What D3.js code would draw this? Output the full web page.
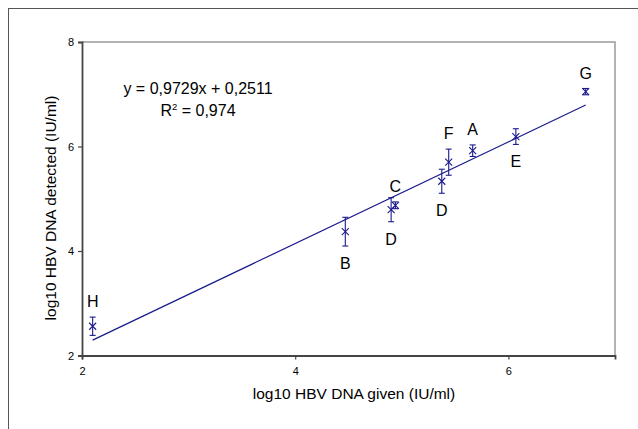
<!DOCTYPE html>
<html>
<head>
<meta charset="utf-8">
<script src="https://cdn.jsdelivr.net/npm/d3@7"></script>
<style>
  body { margin: 0; background: #fff; }
  svg { display: block; font-family: "Liberation Sans", Arial, sans-serif; }
</style>
</head>
<body>
<svg id="chart" width="638" height="429"></svg>
<script>
// ---- data ----
const labels  = ["H", "B", "D", "C", "D", "F", "A", "E", "G"];
const given   = [2.10, 4.47, 4.90, 4.94, 5.375, 5.44, 5.665, 6.07, 6.725];
const detect  = [2.56, 4.37, 4.79, 4.875, 5.335, 5.70, 5.92, 6.19, 7.05];
const errs    = [0.175, 0.275, 0.23, 0.065, 0.23, 0.25, 0.11, 0.15, 0.06];
// label placement: above or below the point
const labelPos = ["above", "below", "below", "above", "below", "above", "above", "below", "above"];
const xTicks = [2, 4, 6];
const yTicks = [2, 4, 6, 8];
const slope = 0.9729, intercept = 0.2511;

const svg = d3.select("#chart");
const plotL = 82, plotR = 615, plotT = 42, plotB = 355.5;

const x = d3.scaleLinear().domain([2, 7]).range([plotL, plotR]);
const y = d3.scaleLinear().domain([2, 8]).range([plotB, plotT]);
const blue = "#1a1a8c";

// outer chart frame (runs off the picture on right/bottom)
svg.append("rect")
  .attr("x", 8.5).attr("y", 8.5)
  .attr("width", 660).attr("height", 460)
  .attr("fill", "none").attr("stroke", "#555").attr("stroke-width", 1);

// plot area border (top + right light grey)
svg.append("path")
  .attr("d", `M${plotL},${plotT}H${plotR}V${plotB}`)
  .attr("fill", "none").attr("stroke", "#9a9a9a").attr("stroke-width", 1.5);

// axes
const xAxis = svg.append("g")
  .attr("transform", `translate(0,${plotB})`)
  .call(d3.axisBottom(x).tickValues(xTicks).tickFormat(d3.format("d")).tickSize(4).tickPadding(8));
const yAxis = svg.append("g")
  .attr("transform", `translate(${plotL},0)`)
  .call(d3.axisLeft(y).tickValues(yTicks).tickFormat(d3.format("d")).tickSize(4).tickPadding(4));
[xAxis, yAxis].forEach(g => {
  g.select(".domain").attr("stroke", "#444").attr("stroke-width", 1.8);
  g.selectAll(".tick line").attr("stroke", "#444").attr("stroke-width", 1.2);
  g.selectAll(".tick text").attr("font-size", 11).attr("fill", "#000")
    .attr("font-family", "Liberation Sans, Arial, sans-serif");
});

// trend line over data range
const xr = d3.extent(given);
svg.append("line")
  .attr("x1", x(xr[0])).attr("y1", y(slope * xr[0] + intercept))
  .attr("x2", x(xr[1])).attr("y2", y(slope * xr[1] + intercept))
  .attr("stroke", blue).attr("stroke-width", 1.2);

// points with error bars
const pts = given.map((g, i) => ({ g, d: detect[i], e: errs[i], lab: labels[i], pos: labelPos[i] }));
const pg = svg.append("g").attr("stroke", blue).attr("stroke-width", 1.1).attr("fill", "none");
pts.forEach(p => {
  const cx = x(p.g), cy = y(p.d), t = y(p.d + p.e), b = y(p.d - p.e);
  pg.append("line").attr("x1", cx).attr("x2", cx).attr("y1", t).attr("y2", b);
  pg.append("line").attr("x1", cx - 3).attr("x2", cx + 3).attr("y1", t).attr("y2", t);
  pg.append("line").attr("x1", cx - 3).attr("x2", cx + 3).attr("y1", b).attr("y2", b);
  pg.append("path").attr("d", `M${cx - 3.5},${cy - 3.5}L${cx + 3.5},${cy + 3.5}M${cx - 3.5},${cy + 3.5}L${cx + 3.5},${cy - 3.5}`);
});

// point labels
svg.append("g").selectAll("text")
  .data(pts)
  .join("text")
    .attr("x", d => x(d.g))
    .attr("y", d => d.pos === "above" ? y(d.d + d.e) - 10 : y(d.d - d.e) + 23)
    .attr("text-anchor", "middle")
    .attr("font-size", 16)
    .text(d => d.lab);

// equation
svg.append("text").attr("x", 198).attr("y", 94).attr("text-anchor", "middle")
  .attr("font-size", 16).text("y = 0,9729x + 0,2511");
const r2 = svg.append("text").attr("x", 198).attr("y", 116).attr("text-anchor", "middle")
  .attr("font-size", 16);
r2.append("tspan").text("R");
r2.append("tspan").attr("font-size", 9.5).attr("dy", -6.5).text("2");
r2.append("tspan").attr("dy", 6.5).text(" = 0,974");

// axis titles
svg.append("text").attr("x", 354).attr("y", 399).attr("text-anchor", "middle")
  .attr("font-size", 15.5).text("log10 HBV DNA given (IU/ml)");
svg.append("text").attr("transform", "translate(56,208) rotate(-90)")
  .attr("text-anchor", "middle").attr("font-size", 15.5)
  .text("log10 HBV DNA detected (IU/ml)");
</script>
</body>
</html>
